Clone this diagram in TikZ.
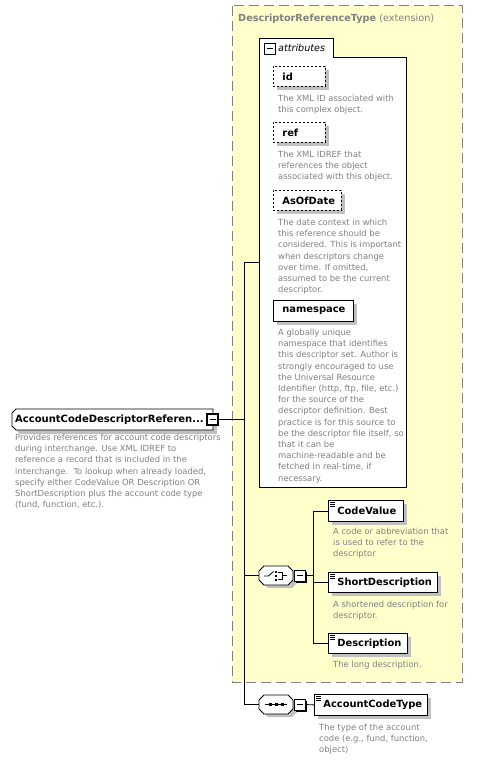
\documentclass[tikz,border=0pt]{standalone}
\usepackage{fontspec}
\setmainfont{DejaVu Sans}
\usetikzlibrary{shadows}
\definecolor{ybg}{RGB}{255,255,204}
\definecolor{dgray}{RGB}{128,128,128}
\definecolor{tgray}{RGB}{128,128,128}
\definecolor{sgray}{RGB}{192,192,192}
\tikzset{
  shd/.style={drop shadow={shadow xshift=4pt,shadow yshift=-4pt,fill=sgray,opacity=1}},
  ebox/.style={draw, fill=white, line width=0.8pt, inner xsep=9pt, inner ysep=0pt, shd, align=left,
    font=\fontsize{9.9}{12}\selectfont\bfseries, anchor=north west},
  abox/.style={ebox, dash pattern=on 2pt off 2pt},
  elicon/.style={path picture={\foreach \d in {2,4,6} \draw[line width=0.7pt] ([xshift=2pt,yshift=-\d pt]path picture bounding box.north west) -- ++(5pt,0);}},
  desc/.style={anchor=north west, align=left, inner sep=0pt, text=tgray, font=\fontsize{8.4}{11.2}\selectfont},
  conn/.style={line width=0.8pt},
  minus/.style={draw, fill=white, minimum size=11pt, inner sep=0pt, line width=0.8pt,
    path picture={\draw[line width=0.8pt] ([xshift=2.5pt]path picture bounding box.west) -- ([xshift=-2.5pt]path picture bounding box.east);}},
  anchorbox/.style={draw=none, inner sep=0pt, minimum width=34pt, minimum height=18pt},
}
\begin{document}
\begin{tikzpicture}[x=1pt,y=-1pt]
\useasboundingbox (0,0) rectangle (486,760);

% extension yellow region
\draw[fill=ybg, draw=dgray, dash pattern=on 10pt off 5pt, line width=1pt] (232,6) rectangle (462,682);
\node[anchor=north west, inner sep=0pt, text=tgray, font=\fontsize{9.7}{12}\selectfont] (hdr) at (238,14)
  {\textbf{DescriptorReferenceType} (extension)};

% attributes box
\draw[fill=white, line width=0.8pt] (259,38) -- (333,38) -- (333,57) -- (406,57) -- (406,487) -- (259,487) -- cycle;
\node[minus] (attrminus) at (269.5,48.5) {};
\node[anchor=west, inner sep=0pt, font=\fontsize{9.6}{12}\selectfont\itshape] (attrlbl) at (278,48) {attributes};
\coordinate (attrL) at (259,262.5);

\node[abox, text width=34pt, minimum height=20pt] (id) at (273,66) {id};
\node[desc] (iddesc) at (278,95) {The XML ID associated with\\this complex object.};

\node[abox, text width=34pt, minimum height=20pt] (ref) at (273,122) {ref};
\node[desc] (refdesc) at (278,151) {The XML IDREF that\\references the object\\associated with this object.};

\node[abox, text width=50pt, minimum height=20pt] (asof) at (273,190) {AsOfDate};
\node[desc] (asofdesc) at (278,219) {The date context in which\\this reference should be\\considered. This is important\\when descriptors change\\over time. If omitted,\\assumed to be the current\\descriptor.};

\node[ebox, text width=62pt, minimum height=21pt] (ns) at (273,300) {namespace};
\node[desc] (nsdesc) at (278,329) {A globally unique\\namespace that identifies\\this descriptor set. Author is\\strongly encouraged to use\\the Universal Resource\\Identifier (http, ftp, file, etc.)\\for the source of the\\descriptor definition. Best\\practice is for this source to\\be the descriptor file itself, so\\that it can be\\machine-readable and be\\fetched in real-time, if\\necessary.};

% main element
\fill[sgray] (20,413) -- (217,413) -- (217,434) -- (20,434) -- (16,430) -- (16,417) -- cycle;
\draw[fill=white, line width=0.8pt] (16,409) -- (213,409) -- (213,430) -- (16,430) -- (12,426) -- (12,413) -- cycle;
\node[anchor=west, inner sep=0pt, font=\fontsize{10}{12}\selectfont\bfseries] (main) at (15,419.5) {AccountCodeDescriptorReferen...};
\node[minus, line width=1.4pt] (mminus) at (212.5,419.5) {};
\node[desc] (maindesc) at (15,434) {Provides references for account code descriptors\\during interchange. Use XML IDREF to\\reference a record that is included in the\\interchange.\ \ To lookup when already loaded,\\specify either CodeValue OR Description OR\\ShortDescription plus the account code type\\(fund, function, etc.).};

% choice compositor
\fill[sgray] (268,570) -- (292,570) -- (297,575) -- (297,583) -- (292,588) -- (268,588) -- (263,583) -- (263,575) -- cycle;
\draw[fill=white, line width=0.8pt] (264,566) -- (288,566) -- (293,571) -- (293,580) -- (288,585) -- (264,585) -- (259,580) -- (259,571) -- cycle;
\node[anchorbox] (ch) at (276,575.5) {};
\draw[line width=0.8pt] (264,576) -- (268.5,576) -- (273.5,571.5);
\fill (275,570.5) rectangle (277,572.5);
\fill (275,574.5) rectangle (277,576.5);
\fill (275,578.5) rectangle (277,580.5);
\draw[line width=0.8pt] (278,572) -- (282,572) -- (282,579) -- (278,579);
\draw[line width=0.8pt] (282,575.5) -- (287,575.5);
\fill (295.5,571.5) rectangle (306.5,582.5);
\node[minus] (chm) at (299.5,575.5) {};

% sequence compositor
\fill[sgray] (268,699) -- (292,699) -- (297,704) -- (297,712) -- (292,717) -- (268,717) -- (263,712) -- (263,704) -- cycle;
\draw[fill=white, line width=0.8pt] (264,695) -- (288,695) -- (293,700) -- (293,709) -- (288,714) -- (264,714) -- (259,709) -- (259,700) -- cycle;
\node[anchorbox] (sq) at (276,704.5) {};
\draw[line width=0.8pt] (265,704.5) -- (287,704.5);
\fill (268.5,703) rectangle (271.5,706);
\fill (274.5,703) rectangle (277.5,706);
\fill (280.5,703) rectangle (283.5,706);
\fill (295.5,700.5) rectangle (306.5,711.5);
\node[minus] (sqm) at (299.5,704.5) {};

% child elements
\node[ebox, elicon, text width=57pt, minimum height=21pt] (cv) at (328,500) {CodeValue};
\node[desc] (cvdesc) at (333,528) {A code or abbreviation that\\is used to refer to the\\descriptor};

\node[ebox, elicon, text width=91pt, minimum height=20pt] (sd) at (328,572) {ShortDescription};
\node[desc] (sddesc) at (333,601) {A shortened description for\\descriptor.};

\node[ebox, elicon, text width=61pt, minimum height=20pt] (ds) at (328,633) {Description};
\node[desc] (dsdesc) at (333,661) {The long description.};

\node[ebox, elicon, text width=95pt, minimum height=21pt] (act) at (314,694) {AccountCodeType};
\node[desc] (actdesc) at (319,724) {The type of the account\\code (e.g., fund, function,\\object)};

% connectors
\coordinate (jtop) at (244,262.5);
\coordinate (jbot) at (244,704.5);
\coordinate (bx) at (313,575.5);
\draw[conn] (jtop) -- (jbot);
\draw[conn] (jtop) -- (attrL);
\draw[conn] (mminus.east) -- (mminus.east -| jtop);
\draw[conn] (ch.west -| jtop) -- (ch.west);
\draw[conn] (jbot) -- (sq.west);
\draw[conn] (chm.east) -- (bx);
\draw[conn] (cv.west) -| (bx |- ds.west) -- (ds.west);
\draw[conn] (sd.west -| bx) -- (sd.west);
\draw[conn] (sqm.east) -- (act.west);
\end{tikzpicture}
\end{document}
